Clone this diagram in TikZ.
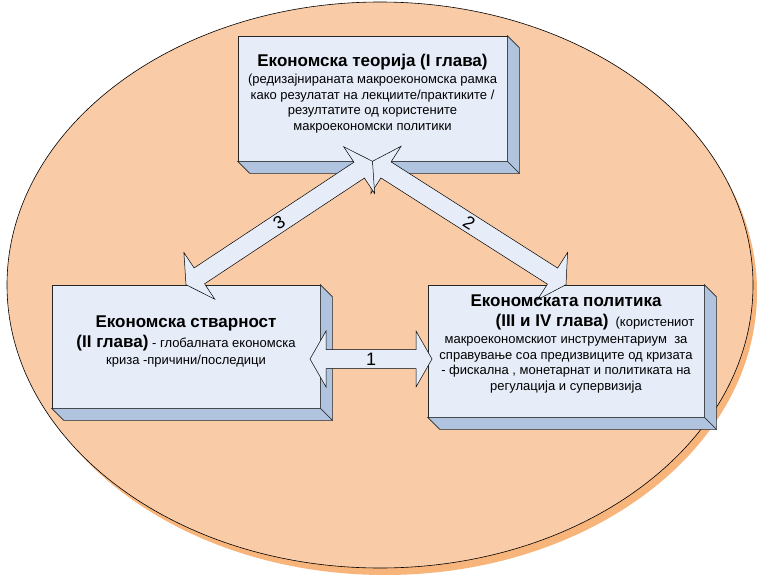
\documentclass[tikz,border=0pt]{standalone}
\usepackage{fontspec}
\setmainfont{Liberation Sans}
\usetikzlibrary{positioning,calc}

\definecolor{peach}{HTML}{F9CBA7}
\definecolor{peachshadow}{HTML}{F7B47B}
\definecolor{boxfront}{HTML}{E6ECF8}
\definecolor{boxside}{HTML}{B0C4E0}

\newcommand{\titlefont}{\fontsize{17}{18}\bfseries\selectfont}

\tikzset{
  facebox/.style={rectangle, draw=black!85, line width=0.6pt, fill=boxfront, inner sep=0pt},
  sideface/.style={draw=black!85, line width=0.6pt, fill=boxside, line join=miter},
  boxtext/.style={align=center, inner sep=0pt, font=\fontsize{13}{15.5}\selectfont},
  blockarrow/.style={draw=black, line width=0.5pt, fill=boxfront, line join=miter},
  arrownum/.style={font=\fontsize{18}{18}\selectfont, inner sep=0pt},
}

% right and bottom faces of a box
\newcommand{\boxsides}[1]{%
  \draw[sideface] (#1.north east) -- ++(12,12) -- ($(#1.south east)+(12,12)$) -- (#1.south east) -- cycle;
  \draw[sideface] (#1.south west) -- (#1.south east) -- ++(12,12) -- ($(#1.south west)+(12,12)$) -- cycle;
}

% block arrow with a head at both ends
\newcommand{\dblblock}[3]{%
  \coordinate (ha) at ($(#1)!16pt!(#2)$);
  \coordinate (hb) at ($(#2)!16pt!(#1)$);
  \draw[blockarrow] (#1) -- ($(ha)!28pt!90:(#2)$) -- ($(ha)!9.5pt!90:(#2)$)
    -- ($(hb)!9.5pt!-90:(#1)$) -- ($(hb)!28pt!-90:(#1)$) -- (#2)
    -- ($(hb)!28pt!90:(#1)$) -- ($(hb)!9.5pt!90:(#1)$)
    -- ($(ha)!9.5pt!-90:(#2)$) -- ($(ha)!28pt!-90:(#2)$) -- cycle;
  \path (#1) -- node[arrownum, sloped] {#3} (#2);
}

\begin{document}
\begin{tikzpicture}[x=1pt, y=-1pt]

  \useasboundingbox[fill=white] (0,0) rectangle (757,575);

  % Background
  \fill[peachshadow] (385,292) ellipse [x radius=372, y radius=283];
  \draw[black, line width=0.6pt, fill=peach] (380,285) ellipse [x radius=373, y radius=283];

  % Define boxes
  \node[facebox, minimum width=269pt, minimum height=125pt] (theory) at (372.5,98.5) {};
  \node[facebox, minimum width=268pt, minimum height=123pt] (reality) at (186,346.5) {};
  \node[facebox, minimum width=276pt, minimum height=132pt] (policy) at (566,351) {};
  \boxsides{theory}
  \boxsides{reality}
  \boxsides{policy}

  % Connect the boxes
  \coordinate (link1a) at (310,359);
  \coordinate (link1b) at (432,359);
  \dblblock{link1a}{link1b}{1}
  \dblblock{theory.south}{policy.north}{2}
  \dblblock{theory.south}{reality.north}{3}

  % Box texts
  \node[boxtext, below=18pt of theory.north] (theorytxt)
    {{\titlefont Економска теорија (I глава)}\\[2pt]
     (редизајнираната макроекономска рамка\\
     како резулатат на лекциите/практиките /\\
     резултатите од користените\\
     макроекономски политики};
  \node[boxtext, below=31pt of reality.north] (realitytxt)
    {{\titlefont Економска стварност}\\[3pt]
     {\titlefont (II глава)} - глобалната економска\\[2pt]
     криза -причини/последици};
  \node[boxtext, below=10pt of policy.north] (policytxt)
    {{\titlefont Економската политика}\\[4pt]
     \hspace*{58pt}{\titlefont (III и IV глава)}\ \ (користениот\\[2pt]
     макроекономскиот инструментариум\ \ за\\
     справување соа предизвиците од кризата\\
     - фискална , монетарнат и политиката на\\
     регулација и супервизија};

\end{tikzpicture}
\end{document}
